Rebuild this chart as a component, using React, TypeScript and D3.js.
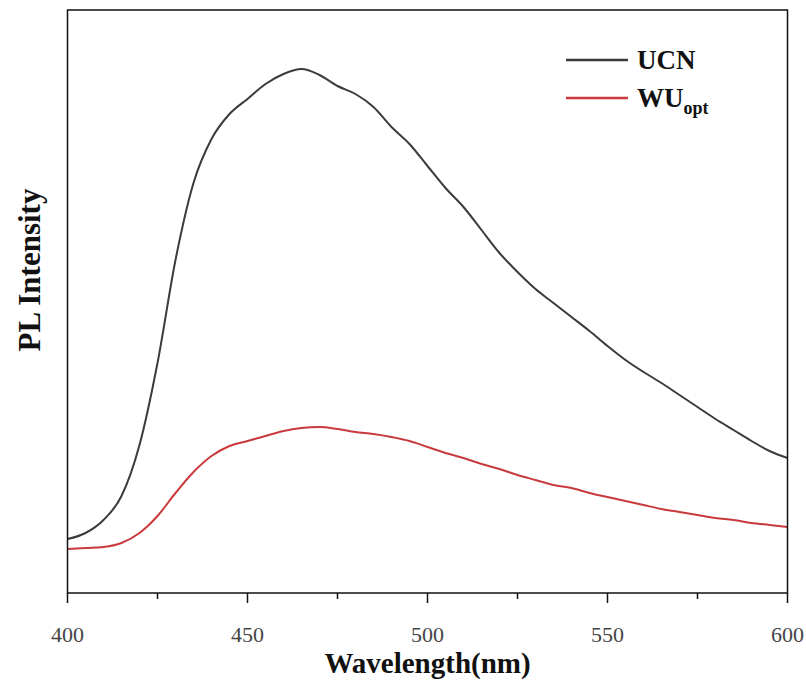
import * as d3 from 'd3';

// wavelength grid (nm) and intensities (a.u.)
const wavelengths = [
  400, 405, 410, 415, 420, 425, 430, 435, 440, 445, 450, 455, 460, 465, 470,
  475, 480, 485, 490, 495, 500, 505, 510, 515, 520, 525, 530, 535, 540, 545,
  550, 555, 560, 565, 570, 575, 580, 585, 590, 595, 600,
];

const ucnValues = [
  540, 600, 730, 970, 1480, 2300, 3330, 4100, 4540, 4790, 4940, 5090, 5190, 5240, 5180,
  5070, 4990, 4860, 4660, 4490, 4270, 4050, 3860, 3630, 3400, 3210, 3040, 2900, 2760, 2620,
  2470, 2330, 2210, 2100, 1980, 1860, 1740, 1630, 1520, 1420, 1350,
];

const wuValues = [
  440, 450, 460, 500, 600, 770, 1000, 1210, 1370, 1470, 1520, 1570, 1620, 1650, 1660,
  1640, 1610, 1590, 1560, 1520, 1460, 1400, 1350, 1290, 1240, 1180, 1130, 1080, 1050, 1000,
  960, 920, 880, 840, 810, 780, 750, 730, 700, 680, 660,
];

const majorTicks = [400, 450, 500, 550, 600];
const minorTicks = [425, 475, 525, 575];

const series = [
  { name: 'UCN', sub: '', values: ucnValues, color: '#3b3b3b' },
  { name: 'WU', sub: 'opt', values: wuValues, color: '#c93a3c' },
];

const W = 806;
const H = 680;
const margin = { top: 10, right: 18.5, bottom: 87, left: 67.5 };
const serif = '"Liberation Serif", "Times New Roman", serif';

export default function App() {
  const x = d3.scaleLinear().domain([400, 600]).range([margin.left, W - margin.right]);
  const y = d3.scaleLinear().domain([0, 5830]).range([H - margin.bottom, margin.top]);

  const line = d3
    .line<number>()
    .x((_, i) => x(wavelengths[i]))
    .y(d => y(d))
    .curve(d3.curveMonotoneX);

  const x0 = x.range()[0];
  const x1 = x.range()[1];
  const yb = y.range()[0];
  const yt = y.range()[1];

  return (
    <svg
      width={W}
      height={H}
      style={{ position: 'absolute', left: 0, top: 0, background: '#fff' }}
    >
      <rect x={0} y={0} width={W} height={H} fill="#fff" />

      {/* curves */}
      {series.map(s => (
        <path
          key={s.name}
          d={line(s.values) || ''}
          fill="none"
          stroke={s.color}
          strokeWidth={2}
          strokeLinejoin="round"
        />
      ))}

      {/* frame */}
      <rect
        x={x0}
        y={yt}
        width={x1 - x0}
        height={yb - yt}
        fill="none"
        stroke="#111"
        strokeWidth={1.5}
      />

      {/* x ticks */}
      {majorTicks.map(t => (
        <g key={t}>
          <line x1={x(t)} x2={x(t)} y1={yb} y2={yb + 10} stroke="#111" strokeWidth={1.5} />
          <text
            x={x(t)}
            y={yb + 49}
            textAnchor="middle"
            fontFamily={serif}
            fontSize={22}
            fill="#444"
          >
            {t}
          </text>
        </g>
      ))}
      {minorTicks.map(t => (
        <line key={t} x1={x(t)} x2={x(t)} y1={yb} y2={yb + 6} stroke="#111" strokeWidth={1.5} />
      ))}

      {/* axis titles */}
      <text
        x={(x0 + x1) / 2}
        y={673}
        textAnchor="middle"
        fontFamily={serif}
        fontWeight="bold"
        fontSize={29}
        fill="#111"
      >
        Wavelength(nm)
      </text>
      <text
        transform="translate(40,270) rotate(-90)"
        textAnchor="middle"
        fontFamily={serif}
        fontWeight="bold"
        fontSize={31}
        fill="#111"
      >
        PL Intensity
      </text>

      {/* legend */}
      {series.map((s, i) => {
        const ly = 60 + i * 38;
        return (
          <g key={s.name}>
            <line x1={566} x2={628} y1={ly} y2={ly} stroke={s.color} strokeWidth={2.5} />
            <text
              x={637}
              y={ly + 9}
              fontFamily={serif}
              fontWeight="bold"
              fontSize={27}
              fill="#111"
            >
              {s.name}
              {s.sub && (
                <tspan fontSize={18} dy={7}>
                  {s.sub}
                </tspan>
              )}
            </text>
          </g>
        );
      })}
    </svg>
  );
}
